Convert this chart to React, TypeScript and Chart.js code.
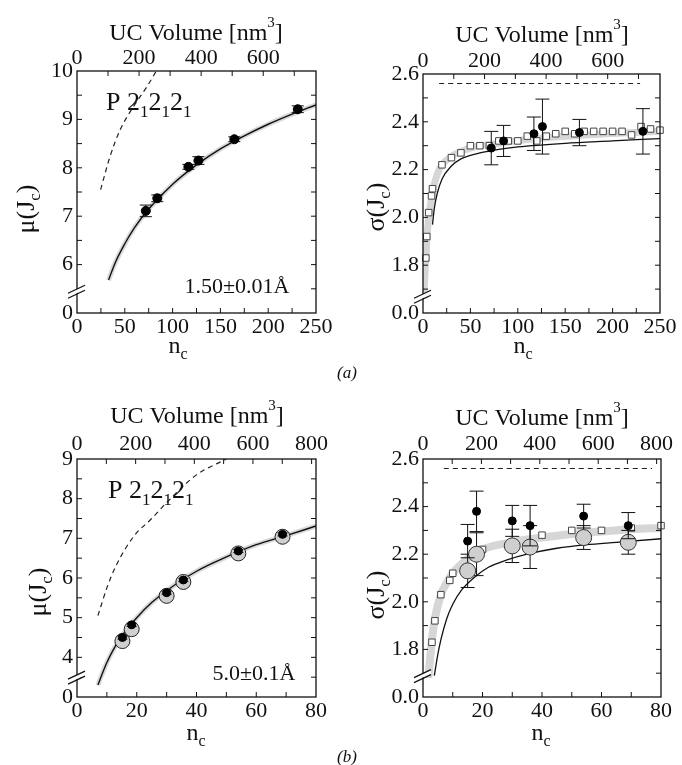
import React, { useEffect, useRef } from 'react';
import { Chart, registerables } from 'chart.js';

Chart.register(...registerables);

const FONT = '"Liberation Serif", "Times New Roman", serif';
Chart.defaults.font.family = FONT;
Chart.defaults.color = '#111';

// ---------- Panel (a) left : mu(Jc), 1.50 Å ----------
const aMuNc = [72, 84, 116.5, 127, 164.6, 230.9];
const aMuVal = [7.11, 7.37, 8.02, 8.15, 8.59, 9.21];
const aMuErr = [0.12, 0.07, 0.05, 0.08, 0.05, 0.07];
const aMuFitNc = [33, 40, 50, 60, 75, 100, 125, 150, 175, 200, 225, 250];
const aMuFit = [5.68, 6.04, 6.43, 6.76, 7.15, 7.66, 8.06, 8.39, 8.66, 8.9, 9.11, 9.3];
const aMuDashNc = [24.7, 34.5, 45, 58.9, 72.9, 83];
const aMuDash = [7.55, 8.23, 8.78, 9.26, 9.67, 10.0];

// ---------- Panel (a) right : sigma(Jc) ----------
const aSigNc = [72, 85, 117, 126, 165, 232];
const aSigVal = [2.29, 2.32, 2.35, 2.38, 2.355, 2.36];
const aSigErr = [0.07, 0.065, 0.07, 0.115, 0.055, 0.095];
const aSqNc = [3, 4, 6, 9, 10, 20, 30, 40, 50, 60, 70, 80, 90, 100, 110, 120, 130, 140, 150, 160, 170, 180, 190, 200, 210, 220, 230, 240, 250];
const aSqVal = [1.83, 1.92, 2.02, 2.09, 2.12, 2.22, 2.25, 2.27, 2.3, 2.3, 2.3, 2.32, 2.32, 2.32, 2.34, 2.32, 2.34, 2.35, 2.36, 2.35, 2.36, 2.36, 2.36, 2.36, 2.36, 2.345, 2.38, 2.37, 2.365];
const aBandNc = [1, 2, 3, 4, 6, 9, 12, 16, 20, 30, 50, 80, 120, 170, 250];
const aBandVal = [1.66, 1.76, 1.83, 1.9, 2.0, 2.08, 2.14, 2.19, 2.22, 2.255, 2.29, 2.31, 2.33, 2.345, 2.36];
const aSigFitNc = [10, 12, 15, 20, 30, 40, 60, 80, 100, 150, 200, 250];
const aSigFit = [1.97, 2.04, 2.1, 2.16, 2.215, 2.245, 2.27, 2.285, 2.295, 2.31, 2.32, 2.33];
const aSigDashNc = [17, 229];
const aSigDash = [2.56, 2.56];

// ---------- Panel (b) left : mu(Jc), 5.0 Å ----------
const bMuNc = [15.2, 18.3, 30, 35.6, 54, 68.8];
const bMuVal = [4.5, 4.82, 5.63, 5.95, 6.68, 7.1];
const bMuErr = [0.04, 0.04, 0.04, 0.04, 0.04, 0.04];
const bMuGrayVal = [4.41, 4.71, 5.55, 5.9, 6.62, 7.04];
const bMuFitNc = [7, 8, 10, 12, 15, 20, 25, 30, 40, 50, 60, 70, 80];
const bMuFit = [3.3, 3.5, 3.87, 4.17, 4.54, 5.0, 5.38, 5.68, 6.17, 6.53, 6.84, 7.07, 7.31];
const bMuDashNc = [7, 10, 13, 19, 25, 30, 40, 50];
const bMuDash = [5.05, 5.75, 6.3, 7.05, 7.5, 7.9, 8.6, 9.0];

// ---------- Panel (b) right : sigma(Jc) ----------
const bSigNc = [15, 18, 30, 36, 54, 69];
const bSigVal = [2.255, 2.38, 2.34, 2.32, 2.36, 2.32];
const bSigErr = [0.07, 0.085, 0.065, 0.085, 0.05, 0.055];
const bSigGray = [2.13, 2.2, 2.235, 2.23, 2.27, 2.25];
const bSigGrayErr = [0.07, 0.09, 0.07, 0.09, 0.05, 0.05];
const bSqNc = [3, 4, 6, 9, 10, 20, 30, 40, 50, 60, 70, 80];
const bSqVal = [1.83, 1.92, 2.03, 2.09, 2.12, 2.22, 2.25, 2.28, 2.3, 2.3, 2.31, 2.32];
const bBandNc = [1.8, 3, 4, 6, 8, 10, 15, 20, 30, 40, 50, 60, 70, 80];
const bBandVal = [1.68, 1.84, 1.93, 2.03, 2.08, 2.12, 2.18, 2.22, 2.25, 2.27, 2.285, 2.295, 2.305, 2.31];
const bSigFitNc = [3.8, 5, 6, 8, 10, 13, 17, 22, 28, 35, 45, 55, 65, 80];
const bSigFit = [1.69, 1.78, 1.84, 1.93, 1.99, 2.05, 2.1, 2.145, 2.175, 2.2, 2.225, 2.24, 2.25, 2.265];
const bSigDashNc = [7, 77];
const bSigDash = [2.56, 2.56];

// ---------- tick labels ----------
const muATicks = [5, 6, 7, 8, 9, 10];
const muALabels = ['0', '6', '7', '8', '9', '10'];
const muBTicks = [3, 4, 5, 6, 7, 8, 9];
const muBLabels = ['0', '4', '5', '6', '7', '8', '9'];
const sigTicks = [1.6, 1.8, 2.0, 2.2, 2.4, 2.6];
const sigLabels = ['0.0', '1.8', '2.0', '2.2', '2.4', '2.6'];
const ncATicks = [0, 50, 100, 150, 200, 250];
const ncBTicks = [0, 20, 40, 60, 80];
const volATicks = [0, 200, 400, 600];
const volBTicks = [0, 200, 400, 600, 800];

type Rich = { t: string; s: number; dy?: number };
type TextItem = { parts: Rich[]; x: number; y: number; align: 'left' | 'center'; rotate?: boolean };

const pts = (xs: number[], ys: number[]) => xs.map((x, i) => ({ x, y: ys[i] }));

const lineDs = (xs: number[], ys: number[], color: string, width: number, order: number, dash: number[] = []) => ({
  data: pts(xs, ys),
  showLine: true,
  borderColor: color,
  borderWidth: width,
  borderDash: dash,
  pointRadius: 0,
  cubicInterpolationMode: 'monotone',
  fill: false,
  order,
});

const markDs = (xs: number[], ys: number[], o: any) => ({
  data: pts(xs, ys),
  showLine: false,
  pointStyle: o.style || 'circle',
  pointRadius: o.r,
  pointBackgroundColor: o.fill,
  pointBorderColor: o.stroke,
  pointBorderWidth: o.bw ?? 1,
  order: o.order,
  clip: 12,
  errors: o.errors,
  capHalf: o.cap,
});

function measureRich(ctx: CanvasRenderingContext2D, parts: Rich[]) {
  let w = 0;
  for (const p of parts) {
    ctx.font = `${p.s}px ${FONT}`;
    w += ctx.measureText(p.t).width;
  }
  return w;
}

function drawRich(ctx: CanvasRenderingContext2D, parts: Rich[], x: number, y: number, align: 'left' | 'center') {
  const w = measureRich(ctx, parts);
  let cx = align === 'center' ? x - w / 2 : x;
  ctx.textAlign = 'left';
  ctx.textBaseline = 'alphabetic';
  ctx.fillStyle = '#111';
  for (const p of parts) {
    ctx.font = `${p.s}px ${FONT}`;
    ctx.fillText(p.t, cx, y + (p.dy || 0));
    cx += ctx.measureText(p.t).width;
  }
}

type Spec = {
  left: number; top: number; width: number; height: number;
  pad: { left: number; top: number; right: number; bottom: number };
  xMax: number; xTicks: number[]; xMinorStep: number;
  topMax: number; topTicks: number[]; topMinorStep: number; topPad: number;
  yMin: number; yMax: number; yTicks: number[]; yLabels: string[]; yMinorStep: number;
  breakY: number;
  datasets: any[];
  texts: TextItem[];
};

function decoPlugin(spec: Spec) {
  return {
    id: 'deco',
    beforeDatasetDraw(chart: any, args: any) {
      const ds: any = chart.data.datasets[args.index];
      if (!ds.errors) return;
      const ctx = chart.ctx;
      const xs = chart.scales.x;
      const ys = chart.scales.y;
      ctx.save();
      ctx.strokeStyle = '#111';
      ctx.lineWidth = 1;
      ds.data.forEach((p: any, i: number) => {
        const e = ds.errors[i];
        const px = xs.getPixelForValue(p.x);
        const y1 = ys.getPixelForValue(p.y - e);
        const y2 = ys.getPixelForValue(p.y + e);
        const c = ds.capHalf || 6;
        ctx.beginPath();
        ctx.moveTo(px, y1); ctx.lineTo(px, y2);
        ctx.moveTo(px - c, y1); ctx.lineTo(px + c, y1);
        ctx.moveTo(px - c, y2); ctx.lineTo(px + c, y2);
        ctx.stroke();
      });
      ctx.restore();
    },
    afterDraw(chart: any) {
      const ctx: CanvasRenderingContext2D = chart.ctx;
      const ca = chart.chartArea;
      const xs = chart.scales.x;
      const ys = chart.scales.y;
      const xt = chart.scales.x2;
      ctx.save();
      ctx.strokeStyle = '#111';
      ctx.lineWidth = 1;
      const TL = 5;
      ctx.beginPath();
      const ny = Math.round((spec.yMax - spec.yMin) / spec.yMinorStep);
      for (let i = 1; i < ny; i++) {
        const py = ys.getPixelForValue(spec.yMin + i * spec.yMinorStep);
        ctx.moveTo(ca.left, py); ctx.lineTo(ca.left + TL, py);
        ctx.moveTo(ca.right, py); ctx.lineTo(ca.right - TL, py);
      }
      const nx = Math.round(spec.xMax / spec.xMinorStep);
      for (let i = 1; i < nx; i++) {
        const px = xs.getPixelForValue(i * spec.xMinorStep);
        ctx.moveTo(px, ca.bottom); ctx.lineTo(px, ca.bottom - TL);
      }
      for (let v = spec.topMinorStep; v < spec.topMax; v += spec.topMinorStep) {
        const px = xt.getPixelForValue(v);
        ctx.moveTo(px, ca.top); ctx.lineTo(px, ca.top + TL);
      }
      ctx.stroke();
      ctx.lineWidth = 1.3;
      ctx.strokeRect(ca.left, ca.top, ca.right - ca.left, ca.bottom - ca.top);

      // axis break
      const by = ys.getPixelForValue(spec.breakY);
      const L = ca.left;
      ctx.fillStyle = '#fff';
      ctx.beginPath();
      ctx.moveTo(L - 9, by + 6); ctx.lineTo(L + 8, by - 2); ctx.lineTo(L + 8, by - 6); ctx.lineTo(L - 9, by + 2);
      ctx.closePath();
      ctx.fill();
      ctx.lineWidth = 1.3;
      ctx.beginPath();
      ctx.moveTo(L - 9, by + 7); ctx.lineTo(L + 8, by - 1);
      ctx.moveTo(L - 9, by + 2); ctx.lineTo(L + 8, by - 6);
      ctx.stroke();

      for (const t of spec.texts) {
        if (t.rotate) {
          const size = t.parts[0].s;
          ctx.save();
          ctx.translate(t.x + size * 0.33, t.y);
          ctx.rotate(-Math.PI / 2);
          drawRich(ctx, t.parts, 0, 0, 'center');
          ctx.restore();
        } else {
          drawRich(ctx, t.parts, t.x, t.y, t.align);
        }
      }
      ctx.restore();
    },
  };
}

const TICK_FONT = { size: 22, family: FONT };

function buildChart(canvas: HTMLCanvasElement, spec: Spec) {
  const fitBottom = (s: any) => { s.height = spec.pad.bottom; s.paddingLeft = 0; s.paddingRight = 0; };
  const fitTop = (s: any) => { s.height = spec.pad.top; s.paddingLeft = 0; s.paddingRight = 0; };
  const fitLeft = (s: any) => { s.width = spec.pad.left; s.paddingTop = 0; s.paddingBottom = 0; };
  return new Chart(canvas, {
    type: 'scatter',
    data: { datasets: spec.datasets },
    options: {
      animation: false,
      responsive: false,
      devicePixelRatio: 1,
      events: [],
      layout: { padding: { left: 0, top: 0, bottom: 0, right: spec.pad.right } },
      plugins: { legend: { display: false }, tooltip: { enabled: false } },
      scales: {
        x: {
          type: 'linear', position: 'bottom', min: 0, max: spec.xMax, bounds: 'data',
          grid: { display: false, drawTicks: false }, border: { display: false },
          ticks: { font: TICK_FONT, color: '#111', padding: 1, maxRotation: 0, autoSkip: false, callback: (v: any) => String(v) },
          afterBuildTicks: (s: any) => { s.ticks = spec.xTicks.map((v) => ({ value: v })); },
          afterFit: fitBottom,
        },
        x2: {
          type: 'linear', position: 'top', min: 0, max: spec.topMax, bounds: 'data',
          grid: { display: false, drawTicks: false }, border: { display: false },
          ticks: { font: TICK_FONT, color: '#111', padding: spec.topPad, maxRotation: 0, autoSkip: false, callback: (v: any) => String(v) },
          afterBuildTicks: (s: any) => { s.ticks = spec.topTicks.map((v) => ({ value: v })); },
          afterFit: fitTop,
        },
        y: {
          type: 'linear', position: 'left', min: spec.yMin, max: spec.yMax, bounds: 'data',
          grid: { display: false, drawTicks: false }, border: { display: false },
          ticks: { font: TICK_FONT, color: '#111', padding: 4, autoSkip: false, callback: (_v: any, i: number) => spec.yLabels[i] },
          afterBuildTicks: (s: any) => { s.ticks = spec.yTicks.map((v) => ({ value: v })); },
          afterFit: fitLeft,
        },
      },
    } as any,
    plugins: [decoPlugin(spec)],
  });
}

const ucTitle = (x: number, y: number): TextItem => ({
  parts: [{ t: 'UC Volume [nm', s: 24 }, { t: '3', s: 15, dy: -13 }, { t: ']', s: 24 }],
  x, y, align: 'center',
});
const ncTitle = (x: number, y: number): TextItem => ({
  parts: [{ t: 'n', s: 24 }, { t: 'c', s: 16, dy: 6 }],
  x, y, align: 'center',
});
const yTitle = (sym: string, x: number, y: number): TextItem => ({
  parts: [{ t: sym + '(J', s: 26 }, { t: 'c', s: 17, dy: 6 }, { t: ')', s: 26 }],
  x, y, align: 'center', rotate: true,
});
const groupTitle = (x: number, y: number): TextItem => ({
  parts: [
    { t: 'P 2', s: 26 }, { t: '1', s: 17, dy: 7 },
    { t: '2', s: 26 }, { t: '1', s: 17, dy: 7 },
    { t: '2', s: 26 }, { t: '1', s: 17, dy: 7 },
  ],
  x, y, align: 'left',
});

const specAL: Spec = {
  left: 0, top: 0, width: 341, height: 365,
  pad: { left: 77, top: 71, right: 25, bottom: 52 },
  xMax: 250, xTicks: ncATicks, xMinorStep: 25,
  topMax: 770, topTicks: volATicks, topMinorStep: 100, topPad: 0,
  yMin: 5, yMax: 10, yTicks: muATicks, yLabels: muALabels, yMinorStep: 0.5,
  breakY: 5.45,
  datasets: [
    markDs(aMuNc, aMuVal, { r: 4.5, fill: '#000', stroke: '#000', order: 1, errors: aMuErr, cap: 6 }),
    lineDs(aMuFitNc, aMuFit, '#111', 1.4, 2),
    lineDs(aMuFitNc, aMuFit, 'rgba(185,185,185,0.55)', 5, 3),
    lineDs(aMuDashNc, aMuDash, '#222', 1.2, 4, [5, 4]),
  ],
  texts: [
    ucTitle(196, 40), ncTitle(178, 353), yTitle('μ', 25, 209), groupTitle(106, 110),
    { parts: [{ t: '1.50±0.01Å', s: 22 }], x: 237, y: 293, align: 'center' },
  ],
};

const specAR: Spec = {
  left: 341, top: 0, width: 341, height: 365,
  pad: { left: 82, top: 74, right: 22, bottom: 52 },
  xMax: 250, xTicks: ncATicks, xMinorStep: 25,
  topMax: 770, topTicks: volATicks, topMinorStep: 100, topPad: 0,
  yMin: 1.6, yMax: 2.6, yTicks: sigTicks, yLabels: sigLabels, yMinorStep: 0.1,
  breakY: 1.67,
  datasets: [
    markDs(aSigNc, aSigVal, { r: 4, fill: '#000', stroke: '#000', order: 1, errors: aSigErr, cap: 7 }),
    markDs(aSqNc, aSqVal, { r: 4.6, style: 'rect', fill: '#fff', stroke: '#444', order: 2 }),
    lineDs(aSigFitNc, aSigFit, '#111', 1.3, 3),
    lineDs(aBandNc, aBandVal, '#d6d6d6', 7, 4),
    lineDs(aSigDashNc, aSigDash, '#222', 1.1, 5, [5, 4]),
  ],
  texts: [ucTitle(201, 42), ncTitle(182, 353), yTitle('σ', 34, 207)],
};

const specBL: Spec = {
  left: 0, top: 385, width: 341, height: 380,
  pad: { left: 77, top: 74, right: 25, bottom: 68 },
  xMax: 80, xTicks: ncBTicks, xMinorStep: 10,
  topMax: 815, topTicks: volBTicks, topMinorStep: 100, topPad: 2,
  yMin: 3, yMax: 9, yTicks: muBTicks, yLabels: muBLabels, yMinorStep: 0.5,
  breakY: 3.5,
  datasets: [
    markDs(bMuNc, bMuVal, { r: 4, fill: '#000', stroke: '#000', order: 1, errors: bMuErr, cap: 5 }),
    markDs(bMuNc, bMuGrayVal, { r: 7.5, fill: '#cfcfcf', stroke: '#222', order: 2 }),
    lineDs(bMuFitNc, bMuFit, '#111', 1.4, 3),
    lineDs(bMuFitNc, bMuFit, 'rgba(185,185,185,0.55)', 5, 4),
    lineDs(bMuDashNc, bMuDash, '#222', 1.2, 5, [5, 4]),
  ],
  texts: [
    ucTitle(197, 38), ncTitle(196, 355), yTitle('μ', 37, 207), groupTitle(108, 113),
    { parts: [{ t: '5.0±0.1Å', s: 22 }], x: 254, y: 295, align: 'center' },
  ],
};

const specBR: Spec = {
  left: 341, top: 385, width: 341, height: 380,
  pad: { left: 82, top: 74, right: 21, bottom: 68 },
  xMax: 80, xTicks: ncBTicks, xMinorStep: 10,
  topMax: 815, topTicks: volBTicks, topMinorStep: 100, topPad: 2,
  yMin: 1.6, yMax: 2.6, yTicks: sigTicks, yLabels: sigLabels, yMinorStep: 0.1,
  breakY: 1.69,
  datasets: [
    markDs(bSigNc, bSigVal, { r: 4, fill: '#000', stroke: '#000', order: 1, errors: bSigErr, cap: 7 }),
    markDs(bSigNc, bSigGray, { r: 8, fill: '#cfcfcf', stroke: '#333', order: 2, errors: bSigGrayErr, cap: 7 }),
    markDs(bSqNc, bSqVal, { r: 4.6, style: 'rect', fill: '#fff', stroke: '#444', order: 3 }),
    lineDs(bSigFitNc, bSigFit, '#111', 1.3, 4),
    lineDs(bBandNc, bBandVal, '#d6d6d6', 8, 5),
    lineDs(bSigDashNc, bSigDash, '#222', 1.1, 6, [5, 4]),
  ],
  texts: [ucTitle(201, 40), ncTitle(200, 355), yTitle('σ', 34, 210)],
};

function Panel({ spec }: { spec: Spec }) {
  const ref = useRef<HTMLCanvasElement | null>(null);
  useEffect(() => {
    if (!ref.current) return;
    const chart = buildChart(ref.current, spec);
    return () => chart.destroy();
  }, [spec]);
  return (
    <canvas
      ref={ref}
      width={spec.width}
      height={spec.height}
      style={{ position: 'absolute', left: spec.left, top: spec.top, width: spec.width, height: spec.height }}
    />
  );
}

const captionStyle: React.CSSProperties = {
  position: 'absolute', width: 40, textAlign: 'center',
  font: `italic 17px ${FONT}`, lineHeight: '20px', color: '#111',
};

export default function App() {
  return (
    <div style={{ position: 'absolute', left: 0, top: 0, width: 682, height: 765, background: '#fff', overflow: 'hidden' }}>
      <Panel spec={specAL} />
      <Panel spec={specAR} />
      <Panel spec={specBL} />
      <Panel spec={specBR} />
      <div style={{ ...captionStyle, left: 327, top: 363 }}>(a)</div>
      <div style={{ ...captionStyle, left: 327, top: 747 }}>(b)</div>
    </div>
  );
}
